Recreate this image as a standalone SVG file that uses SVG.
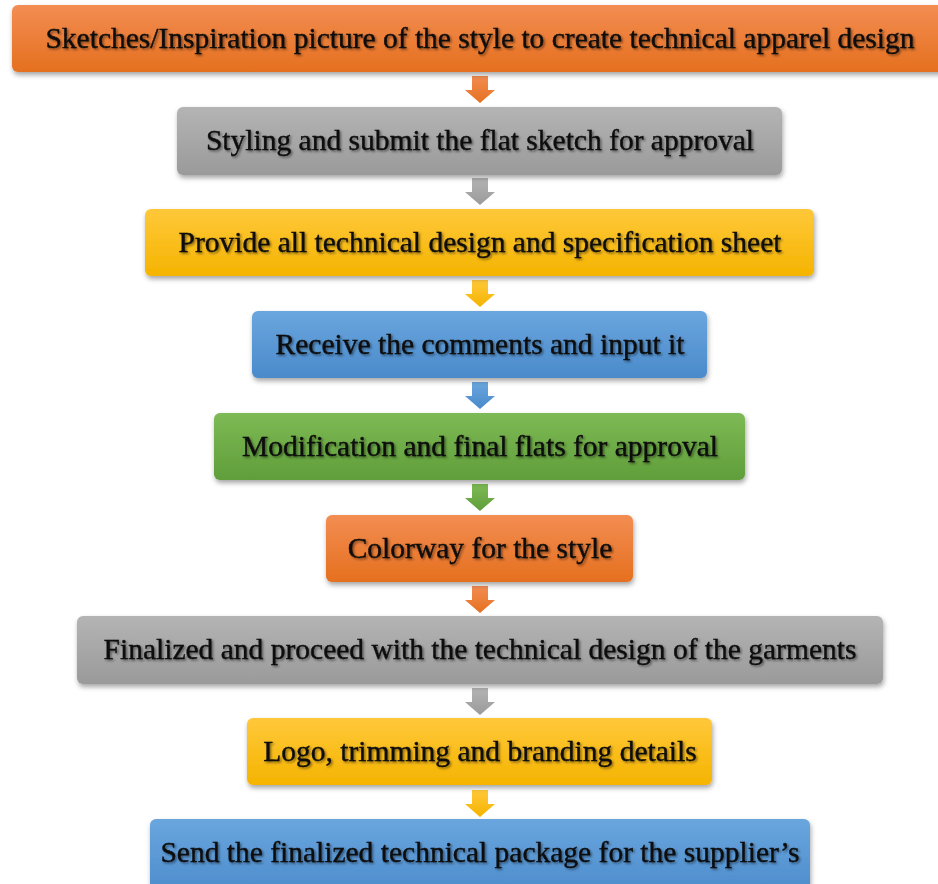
<svg xmlns="http://www.w3.org/2000/svg" width="938" height="884" viewBox="0 0 938 884">
<defs>
<linearGradient id="gO" x1="0" y1="0" x2="0" y2="1"><stop offset="0" stop-color="#F38D52"/><stop offset="1" stop-color="#E5701F"/></linearGradient>
<linearGradient id="gG" x1="0" y1="0" x2="0" y2="1"><stop offset="0" stop-color="#B4B4B4"/><stop offset="1" stop-color="#9A9A9A"/></linearGradient>
<linearGradient id="gY" x1="0" y1="0" x2="0" y2="1"><stop offset="0" stop-color="#FFC83A"/><stop offset="1" stop-color="#F5B400"/></linearGradient>
<linearGradient id="gB" x1="0" y1="0" x2="0" y2="1"><stop offset="0" stop-color="#6AA6DE"/><stop offset="1" stop-color="#4A8ACB"/></linearGradient>
<linearGradient id="gN" x1="0" y1="0" x2="0" y2="1"><stop offset="0" stop-color="#7EBA55"/><stop offset="1" stop-color="#5F9E3A"/></linearGradient>
<filter id="sh" x="-5%" y="-20%" width="110%" height="150%"><feDropShadow dx="1" dy="3" stdDeviation="2.5" flood-color="#000" flood-opacity="0.35"/></filter>
<filter id="tsh" x="-5%" y="-30%" width="110%" height="160%"><feDropShadow dx="1.5" dy="1.5" stdDeviation="1.2" flood-color="#000" flood-opacity="0.5"/></filter>
<path id="arr" d="M-8,0 H8 V14 H15 L0,27 L-15,14 H-8 Z"/>
</defs>
<style>
.t{font-family:"Liberation Serif","Times New Roman",serif;font-size:29.5px;fill:#0a0a0a;stroke:#0a0a0a;stroke-width:0.3;text-anchor:middle;filter:url(#tsh)}
.b{filter:url(#sh)}
</style>
<rect width="938" height="884" fill="#fff"/>
<g id="connectors">
<use href="#arr" x="480" y="76" fill="url(#gO)"/>
<use href="#arr" x="480" y="178" fill="url(#gG)"/>
<use href="#arr" x="480" y="280" fill="url(#gY)"/>
<use href="#arr" x="480" y="382" fill="url(#gB)"/>
<use href="#arr" x="480" y="484" fill="url(#gN)"/>
<use href="#arr" x="480" y="586" fill="url(#gO)"/>
<use href="#arr" x="480" y="688" fill="url(#gG)"/>
<use href="#arr" x="480" y="790" fill="url(#gY)"/>
</g>
<g id="n1"><rect class="b" x="12" y="5" width="936" height="67" rx="6" fill="url(#gO)"/><text class="t" x="480" y="48">Sketches/Inspiration picture of the style to create technical apparel design</text></g>
<g id="n2"><rect class="b" x="177" y="107" width="605" height="68" rx="6" fill="url(#gG)"/><text class="t" x="480" y="150">Styling and submit the flat sketch for approval</text></g>
<g id="n3"><rect class="b" x="145" y="209" width="669" height="67" rx="6" fill="url(#gY)"/><text class="t" x="480" y="252">Provide all technical design and specification sheet</text></g>
<g id="n4"><rect class="b" x="252" y="311" width="455" height="67" rx="6" fill="url(#gB)"/><text class="t" x="480" y="354">Receive the comments and input it</text></g>
<g id="n5"><rect class="b" x="214" y="413" width="531" height="67" rx="6" fill="url(#gN)"/><text class="t" x="480" y="456">Modification and final flats for approval</text></g>
<g id="n6"><rect class="b" x="326" y="515" width="307" height="67" rx="6" fill="url(#gO)"/><text class="t" x="480" y="558">Colorway for the style</text></g>
<g id="n7"><rect class="b" x="77" y="616" width="806" height="68" rx="6" fill="url(#gG)"/><text class="t" x="480" y="659">Finalized and proceed with the technical design of the garments</text></g>
<g id="n8"><rect class="b" x="247" y="718" width="465" height="67" rx="6" fill="url(#gY)"/><text class="t" x="480" y="761">Logo, trimming and branding details</text></g>
<g id="n9"><rect class="b" x="150" y="819" width="660" height="80" rx="6" fill="url(#gB)"/><text class="t" x="480" y="862">Send the finalized technical package for the supplier’s</text></g>
</svg>
